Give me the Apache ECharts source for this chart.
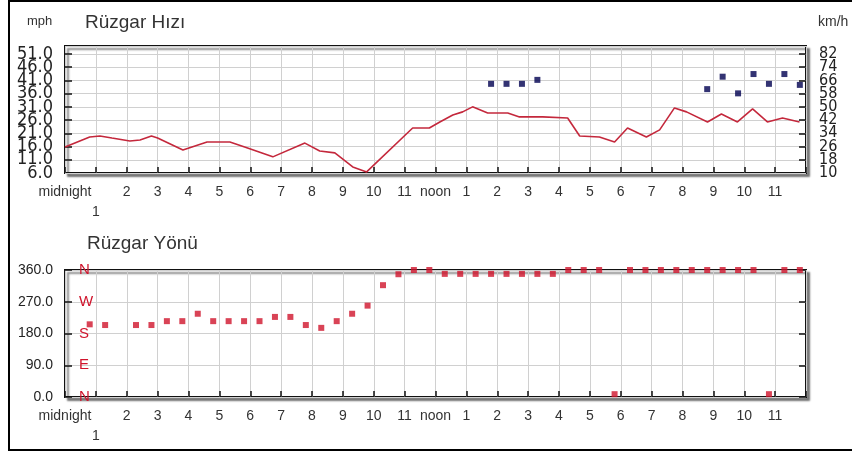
<!DOCTYPE html>
<html>
<head>
<meta charset="utf-8">
<script src="https://cdn.jsdelivr.net/npm/echarts@6/dist/echarts.min.js"></script>
<style>
  html, body { margin: 0; padding: 0; background: #fff; }
  #chart { width: 852px; height: 452px; }
</style>
</head>
<body>
<div id="chart"></div>
<script>
// hour tick labels, 0 .. 24
const hourLabels = ["midnight", "\n1", "2", "3", "4", "5", "6", "7", "8", "9", "10", "11",
  "noon", "1", "2", "3", "4", "5", "6", "7", "8", "9", "10", "11", ""];
const compassLabels = ["N", "E", "S", "W", "N"]; // 0, 90, 180, 270, 360

// wind speed (mph), red line
const speedHours = [0, 0.8, 1.13, 1.52, 2.1, 2.43, 2.8, 3.0, 3.82, 4.6, 5.34, 5.89, 6.73, 7.77, 8.25, 8.74,
  9.32, 9.77, 11.26, 11.8, 12.14, 12.56, 12.88, 13.2, 13.69, 14.34, 14.72, 15.47, 16.28, 16.67, 17.31,
  17.8, 18.22, 18.83, 19.26, 19.74, 20.13, 20.81, 21.26, 21.78, 22.27, 22.75, 23.24, 23.79];
const speedMph = [15.8, 19.6, 20.0, 19.2, 18.1, 18.5, 20.0, 19.2, 14.7, 17.7, 17.7, 15.5, 12.1, 17.3, 14.3, 13.6,
  8.3, 6.4, 23.0, 23.0, 25.3, 27.9, 29.1, 31.0, 28.7, 28.7, 27.2, 27.2, 26.8, 20.0, 19.6,
  17.7, 23.0, 19.6, 22.3, 30.6, 29.1, 25.3, 28.3, 25.3, 30.2, 25.3, 26.8, 25.3];

// gusts (mph), blue squares
const gustHours = [13.8, 14.3, 14.8, 15.3, 20.8, 21.3, 21.8, 22.3, 22.8, 23.3, 23.8];
const gustMph = [39.7, 39.7, 39.7, 41.2, 37.7, 42.4, 36.1, 43.4, 39.7, 43.4, 39.3];

// wind direction (degrees)
const dirHours = [0.8, 1.3, 1.8, 2.3, 2.8, 3.3, 3.8, 4.3, 4.8, 5.3, 5.8, 6.3, 6.8, 7.3, 7.8, 8.3, 8.8, 9.3,
  9.8, 10.3, 10.8, 11.3, 11.8, 12.3, 12.8, 13.3, 13.8, 14.3, 14.8, 15.3, 15.8, 16.3, 16.8, 17.3, 17.8,
  18.3, 18.8, 19.3, 19.8, 20.3, 20.8, 21.3, 21.8, 22.3, 22.8, 23.3, 23.8];
const dirDeg = [206, 204, null, 204, 204, 215, 215, 236, 215, 215, 215, 215, 227, 227, 204, 196, 215, 236,
  259, 317, 348, 360, 360, 349, 349, 349, 349, 349, 349, 349, 349, 360, 360, 360, 8,
  360, 360, 360, 360, 360, 360, 360, 360, 360, 8, 360, 360];

const zip = (xs, ys) => xs.map((x, i) => [x, ys[i]]);

const narrow = "'Liberation Sans Narrow', 'Arial Narrow', 'DejaVu Sans Condensed', sans-serif";
const sans = "'Liberation Sans', Arial, sans-serif";
const gridColor = "#d0d0d0";
const onStep = (v, start, step) => {
  const k = (v - start) / step;
  return Math.abs(k - Math.round(k)) < 1e-6;
};

function hourAxis(gridIndex) {
  return {
    type: "value",
    gridIndex: gridIndex,
    min: 0,
    max: 24,
    interval: 1,
    axisLine: { show: false },
    axisTick: { show: true, inside: true, length: 6, lineStyle: { color: "#111", width: 1.5 } },
    axisLabel: {
      margin: 9,
      color: "#333",
      fontFamily: sans,
      fontSize: 14,
      lineHeight: 20,
      showMinLabel: true,
      showMaxLabel: true,
      formatter: (v) => hourLabels[Math.round(v)],
    },
    splitLine: { show: true, lineStyle: { color: gridColor, width: 1 } },
  };
}

const plainAxis = { axisLine: { show: false }, axisTick: { show: false }, splitLine: { show: false } };
const topGrid = { left: 65, top: 46, width: 741, height: 127 };
const botGrid = { left: 65, top: 270, width: 741, height: 127 };
const frame = {
  show: true, backgroundColor: "#fff", borderColor: "#111", borderWidth: 2,
  shadowColor: "rgba(0,0,0,0.45)", shadowBlur: 2, shadowOffsetX: 3, shadowOffsetY: 3,
};

const chart = echarts.init(document.getElementById("chart"));
chart.setOption({
  animation: false,
  backgroundColor: "#fff",
  graphic: [
    {
      type: "rect",
      shape: { x: 9, y: 1, width: 860, height: 449 },
      style: { fill: null, stroke: "#000", lineWidth: 2 },
      silent: true,
    },
  ],
  title: [
    { text: "mph", left: 22, top: 10, textStyle: { fontFamily: sans, fontSize: 13, fontWeight: "normal", color: "#333" } },
    { text: "Rüzgar Hızı", left: 80, top: 8, textStyle: { fontFamily: sans, fontSize: 19, fontWeight: "normal", color: "#333" } },
    { text: "km/h", left: 813, top: 10, textStyle: { fontFamily: sans, fontSize: 14, fontWeight: "normal", color: "#333" } },
    { text: "Rüzgar Yönü", left: 82, top: 229, textStyle: { fontFamily: sans, fontSize: 19, fontWeight: "normal", color: "#333" } },
  ],
  grid: [
    Object.assign({}, topGrid, frame),
    Object.assign({}, botGrid, frame),
    Object.assign({}, botGrid, { show: false }), // compass letters
    Object.assign({}, topGrid, { show: false }), // bottom labels of speed axes
  ],
  xAxis: [
    hourAxis(0),
    hourAxis(1),
    { type: "value", gridIndex: 2, min: 0, max: 24, show: false },
    { type: "value", gridIndex: 3, min: 0, max: 24, show: false },
  ],
  yAxis: [
    {
      type: "value", gridIndex: 0, position: "left",
      min: 6, max: 54, interval: 5,
      axisLine: { show: false },
      axisTick: { show: true, inside: true, length: 7, lineStyle: { color: "#111", width: 1.5 } },
      axisLabel: {
        margin: 12, color: "#222", fontFamily: narrow, fontSize: 18,
        showMinLabel: false, showMaxLabel: false,
        formatter: (v) => (onStep(v, 6, 5) ? v.toFixed(1) : ""),
      },
      splitLine: { show: true, lineStyle: { color: gridColor, width: 1 } },
    },
    {
      type: "value", gridIndex: 0, position: "right",
      min: 10, max: 86.8, interval: 8,
      axisLine: { show: false },
      axisTick: { show: true, inside: true, length: 7, lineStyle: { color: "#111", width: 1.5 } },
      axisLabel: {
        margin: 13, color: "#222", fontFamily: narrow, fontSize: 16,
        showMinLabel: false, showMaxLabel: false,
        formatter: (v) => (onStep(v, 10, 8) ? String(v) : ""),
      },
      splitLine: { show: false },
    },
    {
      type: "value", gridIndex: 1, position: "left",
      min: 0, max: 360, interval: 90,
      axisLine: { show: false },
      axisTick: { show: true, inside: true, length: 7, lineStyle: { color: "#111", width: 1.5 } },
      axisLabel: { margin: 12, color: "#222", fontFamily: sans, fontSize: 14, formatter: (v) => v.toFixed(1) },
      splitLine: { show: true, lineStyle: { color: gridColor, width: 1 } },
    },
    {
      type: "value", gridIndex: 1, position: "right",
      min: 0, max: 360, interval: 90,
      axisLine: { show: false },
      axisTick: { show: true, inside: true, length: 7, lineStyle: { color: "#111", width: 1.5 } },
      axisLabel: { show: false },
      splitLine: { show: false },
    },
    Object.assign({
      type: "value", gridIndex: 2, position: "left",
      min: 0, max: 360, interval: 90,
      axisLabel: {
        inside: true, margin: 14, color: "#d0142c", fontFamily: sans, fontSize: 15,
        formatter: (v) => compassLabels[Math.round(v / 90)],
      },
    }, plainAxis),
    Object.assign({
      type: "value", gridIndex: 3, position: "left",
      min: 6, max: 54, interval: 5,
      axisLabel: {
        margin: 12, color: "#222", fontFamily: narrow, fontSize: 18,
        showMinLabel: true, showMaxLabel: false,
        formatter: (v) => (v === 6 ? v.toFixed(1) : ""),
      },
    }, plainAxis),
    Object.assign({
      type: "value", gridIndex: 3, position: "right",
      min: 10, max: 86.8, interval: 8,
      axisLabel: {
        margin: 13, color: "#222", fontFamily: narrow, fontSize: 16,
        showMinLabel: true, showMaxLabel: false,
        formatter: (v) => (v === 10 ? String(v) : ""),
      },
    }, plainAxis),
  ],
  series: [
    {
      name: "speed", type: "line", xAxisIndex: 0, yAxisIndex: 0,
      data: zip(speedHours, speedMph),
      showSymbol: false, symbol: "none",
      lineStyle: { color: "#c4283c", width: 1.6 },
    },
    {
      name: "gust", type: "scatter", xAxisIndex: 0, yAxisIndex: 0,
      data: zip(gustHours, gustMph),
      symbol: "rect", symbolSize: 6,
      itemStyle: { color: "#000050" },
    },
    {
      name: "direction", type: "scatter", xAxisIndex: 1, yAxisIndex: 2,
      data: zip(dirHours, dirDeg).filter((d) => d[1] !== null),
      symbol: "rect", symbolSize: 6, clip: false,
      itemStyle: { color: "#d0142c" },
    },
  ],
});
</script>
</body>
</html>
